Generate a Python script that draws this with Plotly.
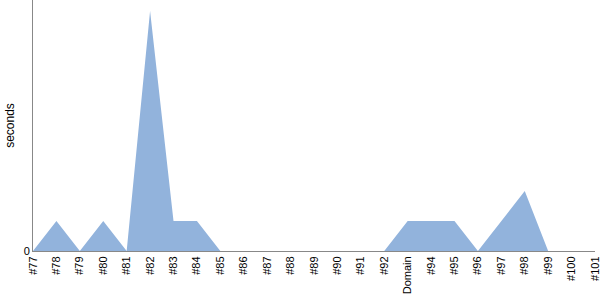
import plotly.graph_objects as go

categories = ["#77", "#78", "#79", "#80", "#81", "#82", "#83", "#84", "#85", "#86",
              "#87", "#88", "#89", "#90", "#91", "#92", "Domain", "#94", "#95", "#96",
              "#97", "#98", "#99", "#100", "#101"]
seconds = [0, 1, 0, 1, 0, 8, 1, 1, 0, 0,
           0, 0, 0, 0, 0, 0, 1, 1, 1, 0,
           1, 2, 0, 0, 0]

fig = go.Figure(go.Scatter(
    x=categories, y=seconds, mode="lines", fill="tozeroy",
    line=dict(width=0, color="rgba(146,179,220,1)"),
    fillcolor="rgba(146,179,220,1)", hoverinfo="skip",
))

fig.update_layout(
    width=600, height=300,
    margin=dict(l=33, r=5, t=0, b=49),
    paper_bgcolor="white", plot_bgcolor="white",
    showlegend=False,
    font=dict(family="Liberation Sans, Arial", size=11, color="black"),
    xaxis=dict(type="category", range=[0, 24], tickangle=-90, showgrid=False,
               showline=True, linecolor="#888", linewidth=1, ticks="",
               tickfont=dict(size=11), zeroline=False),
    yaxis=dict(range=[0, 251/30], tickvals=[0], ticktext=["0"], showgrid=False,
               showline=True, linecolor="#888", linewidth=1, ticks="",
               zeroline=False, tickfont=dict(size=11),
               title=dict(text="seconds", font=dict(size=12), standoff=6)),
)

fig.write_html("out.html")
